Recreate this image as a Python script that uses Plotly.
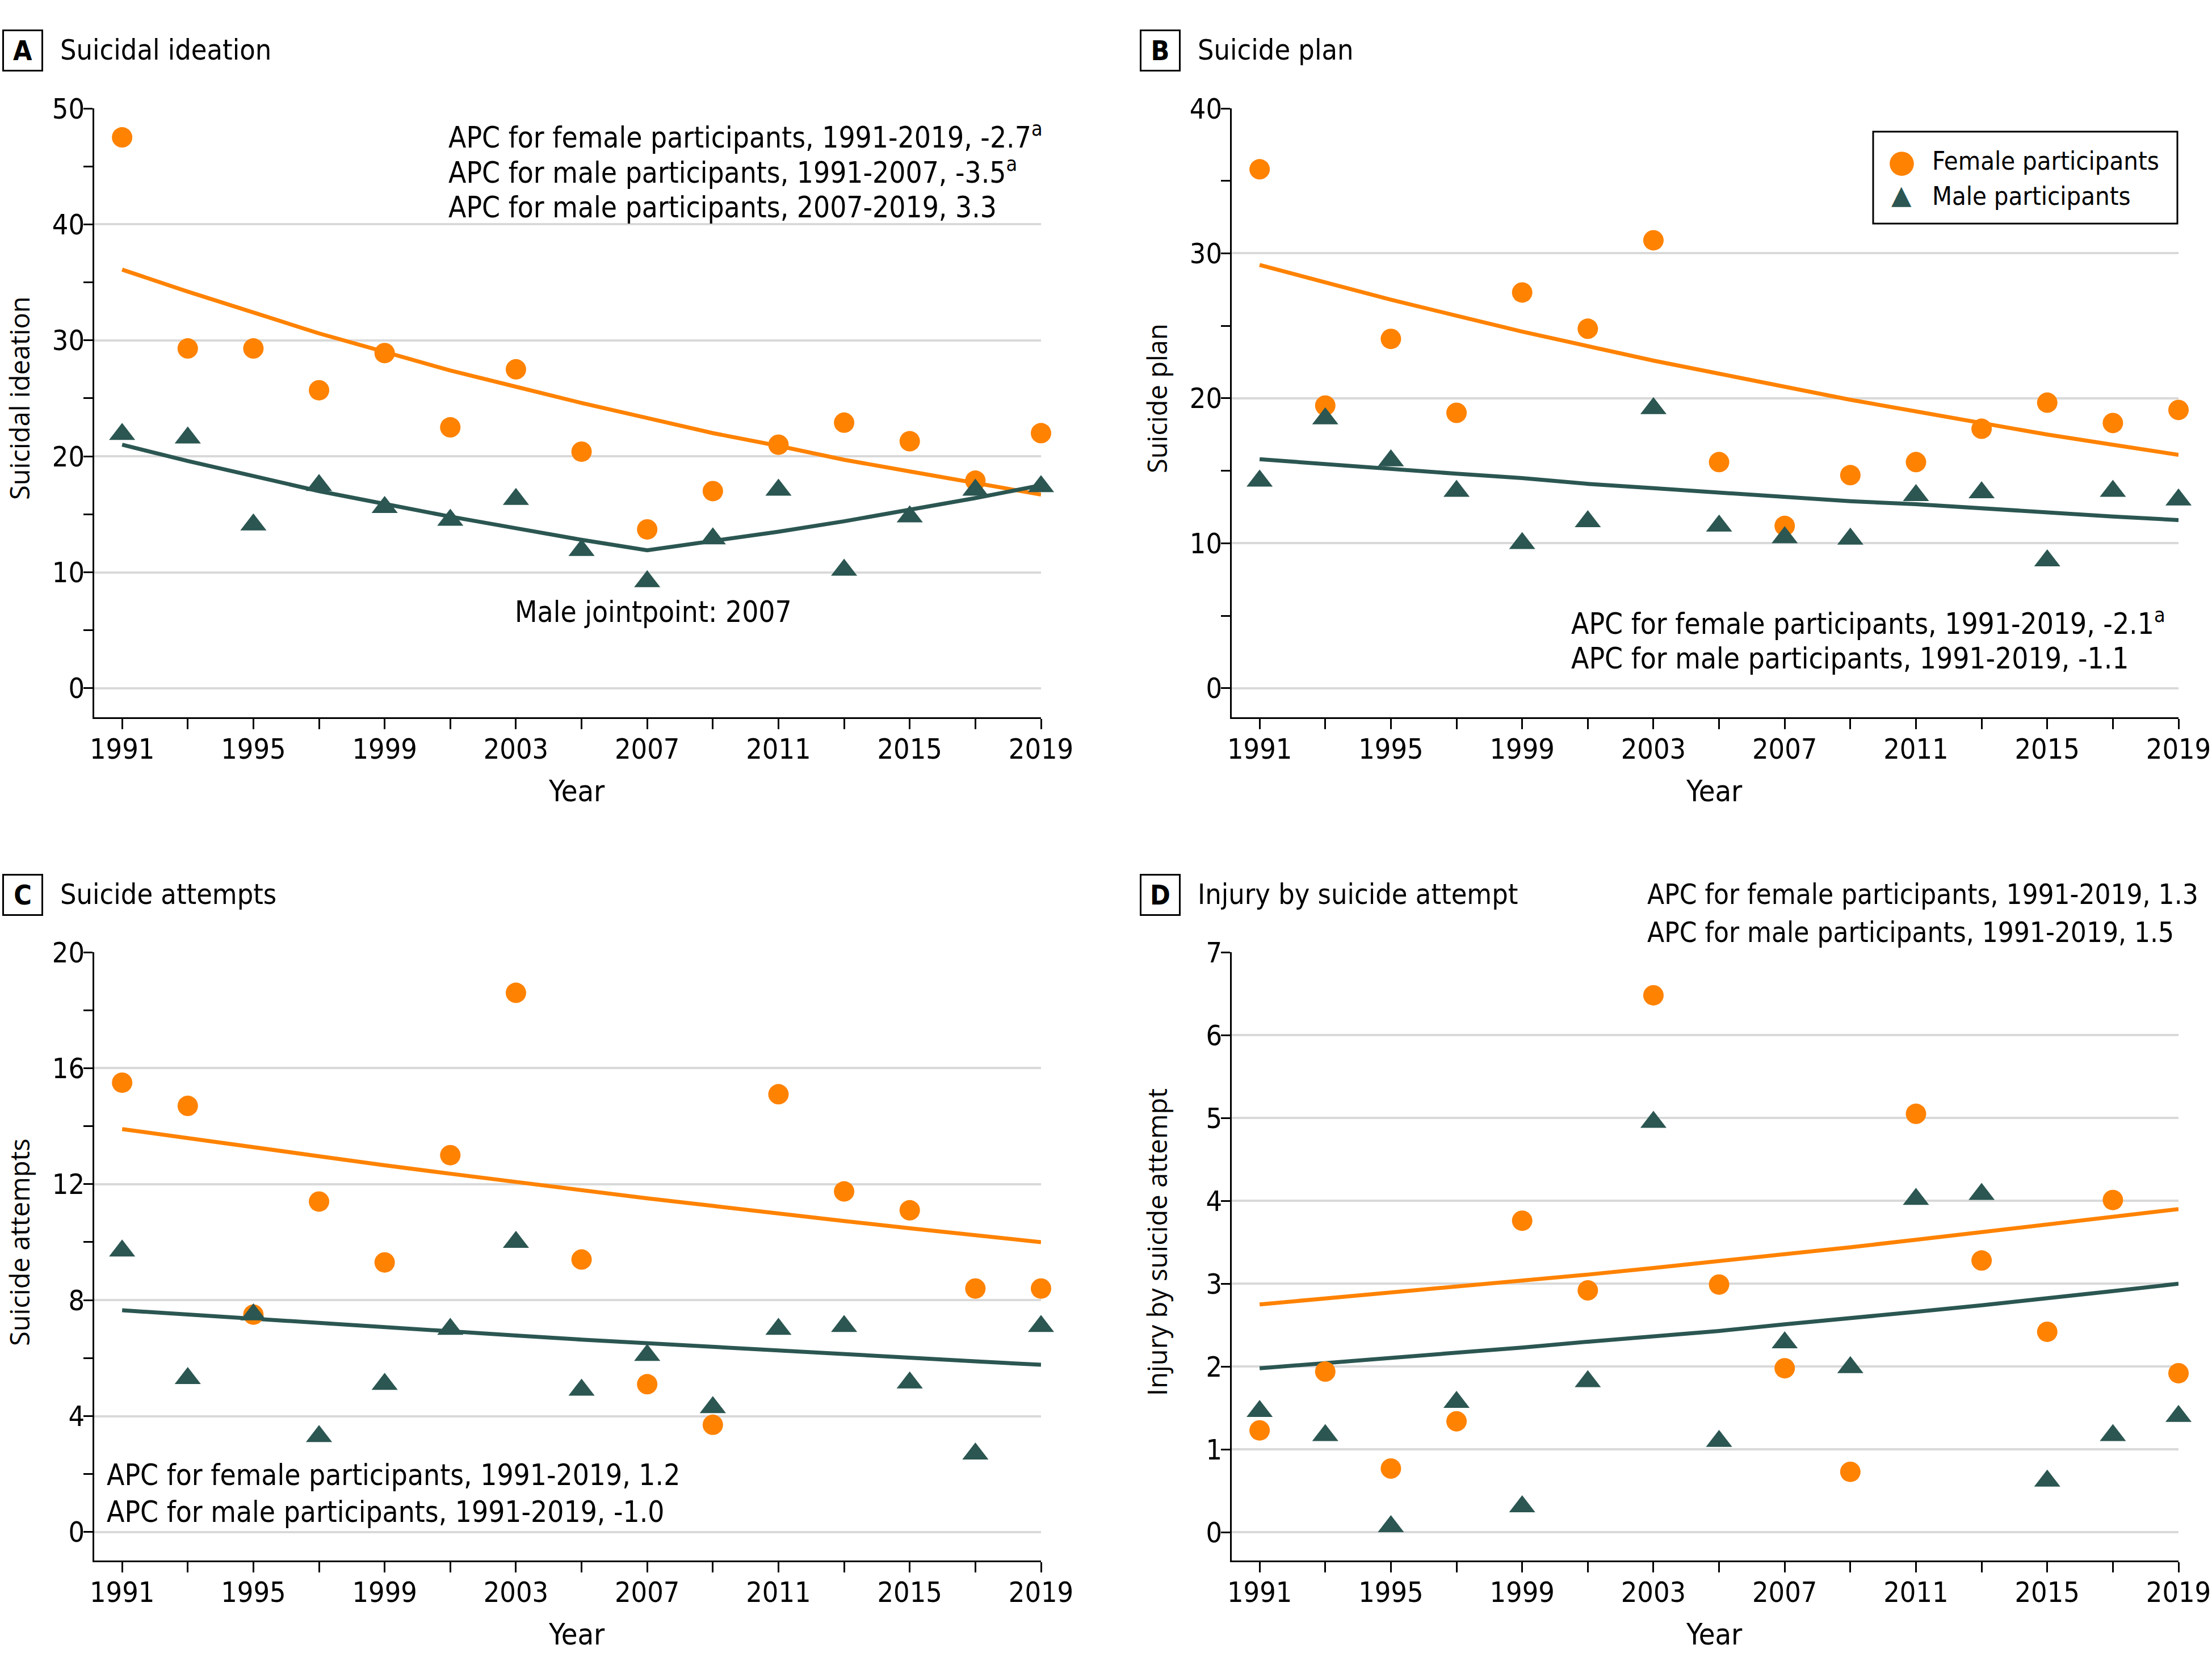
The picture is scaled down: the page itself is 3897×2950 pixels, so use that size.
import plotly.graph_objects as go

W, H = 3897, 2950
ORANGE = "#FF8200"
TEAL = "#2B5651"
FONT = "Liberation Sans Narrow, DejaVu Sans Condensed, Arial Narrow, sans-serif"
YTITLE_FONT = "Open Sans, Noto Sans, DejaVu Sans, sans-serif"

years = [1991, 1993, 1995, 1997, 1999, 2001, 2003, 2005, 2007, 2009, 2011, 2013, 2015, 2017, 2019]

# A - suicidal ideation
ideation_female = [47.5, 29.3, 29.3, 25.7, 28.9, 22.5, 27.5, 20.4, 13.7, 17.0, 21.0, 22.9, 21.3, 17.9, 22.0]
ideation_male = [21.9, 21.6, 14.1, 17.5, 15.6, 14.5, 16.3, 11.9, 9.2, 12.9, 17.1, 10.2, 14.8, 17.1, 17.4]
ideation_female_fit = [36.1, 34.2, 32.4, 30.6, 29.0, 27.4, 26.0, 24.6, 23.3, 22.0, 20.9, 19.7, 18.7, 17.7, 16.7]
ideation_male_fit = [21.0, 19.6, 18.3, 17.0, 15.9, 14.8, 13.8, 12.8, 11.9, 12.7, 13.5, 14.4, 15.4, 16.4, 17.5]

# B - suicide plan
plan_female = [35.8, 19.5, 24.1, 19.0, 27.3, 24.8, 30.9, 15.6, 11.2, 14.7, 15.6, 17.9, 19.7, 18.3, 19.2]
plan_male = [14.3, 18.6, 15.7, 13.6, 10.0, 11.5, 19.3, 11.2, 10.4, 10.3, 13.3, 13.5, 8.8, 13.6, 13.0]
plan_female_fit = [29.2, 28.0, 26.8, 25.7, 24.6, 23.6, 22.6, 21.7, 20.8, 19.9, 19.1, 18.3, 17.5, 16.8, 16.1]
plan_male_fit = [15.8, 15.45, 15.1, 14.8, 14.5, 14.1, 13.8, 13.5, 13.2, 12.9, 12.7, 12.4, 12.1, 11.85, 11.6]

# C - suicide attempts
attempts_female = [15.5, 14.7, 7.5, 11.4, 9.3, 13.0, 18.6, 9.4, 5.1, 3.7, 15.1, 11.75, 11.1, 8.4, 8.4]
attempts_male = [9.7, 5.3, 7.5, 3.3, 5.1, 7.0, 10.0, 4.9, 6.1, 4.3, 7.0, 7.1, 5.15, 2.7, 7.1]
attempts_female_fit = [13.9, 13.58, 13.26, 12.95, 12.65, 12.36, 12.07, 11.79, 11.51, 11.25, 10.98, 10.73, 10.48, 10.23, 10.0]
attempts_male_fit = [7.65, 7.5, 7.35, 7.2, 7.06, 6.92, 6.78, 6.64, 6.51, 6.38, 6.25, 6.13, 6.01, 5.89, 5.77]

# D - injury by suicide attempt
injury_female = [1.23, 1.94, 0.77, 1.34, 3.76, 2.92, 6.48, 2.99, 1.98, 0.73, 5.05, 3.28, 2.42, 4.01, 1.92]
injury_male = [1.46, 1.17, 0.07, 1.57, 0.31, 1.82, 4.95, 1.10, 2.29, 1.99, 4.02, 4.08, 0.62, 1.17, 1.40]
injury_female_fit = [2.75, 2.82, 2.89, 2.96, 3.04, 3.11, 3.19, 3.27, 3.36, 3.44, 3.53, 3.62, 3.71, 3.80, 3.90]
injury_male_fit = [1.98, 2.04, 2.10, 2.16, 2.23, 2.30, 2.36, 2.43, 2.51, 2.58, 2.66, 2.74, 2.82, 2.91, 3.0]


def fx(px):
    return px / W


def fy(py):
    return 1 - py / H


panels = [
    dict(letter="A", title="Suicidal ideation", ytitle="Suicidal ideation",
         female=ideation_female, male=ideation_male,
         ffit=ideation_female_fit, mfit=ideation_male_fit,
         yrange=[-2.5, 50], dtick=10, minor=5,
         left=166, right=1834, top=191, bottom=1264, ytop=191, yzero=1213),
    dict(letter="B", title="Suicide plan", ytitle="Suicide plan",
         female=plan_female, male=plan_male,
         ffit=plan_female_fit, mfit=plan_male_fit,
         yrange=[-2.0, 40], dtick=10, minor=5,
         left=2170, right=3838, top=191, bottom=1264, ytop=191, yzero=1213),
    dict(letter="C", title="Suicide attempts", ytitle="Suicide attempts",
         female=attempts_female, male=attempts_male,
         ffit=attempts_female_fit, mfit=attempts_male_fit,
         yrange=[-0.98, 20], dtick=4, minor=2,
         left=166, right=1834, top=1678, bottom=2750, ytop=1678, yzero=2700),
    dict(letter="D", title="Injury by suicide attempt", ytitle="Injury by suicide attempt",
         female=injury_female, male=injury_male,
         ffit=injury_female_fit, mfit=injury_male_fit,
         yrange=[-0.34, 7], dtick=1, minor=None,
         left=2170, right=3838, top=1678, bottom=2750, ytop=1678, yzero=2700),
]

fig = go.Figure()
annotations = []
shapes = []
layout = {}

for i, p in enumerate(panels):
    n = "" if i == 0 else str(i + 1)
    xa, ya = "x" + n, "y" + n

    fig.add_trace(go.Scatter(x=years, y=p["ffit"], mode="lines", xaxis=xa, yaxis=ya,
                             line=dict(color=ORANGE, width=7), showlegend=False))
    fig.add_trace(go.Scatter(x=years, y=p["mfit"], mode="lines", xaxis=xa, yaxis=ya,
                             line=dict(color=TEAL, width=7), showlegend=False))
    fig.add_trace(go.Scatter(x=years, y=p["female"], mode="markers", xaxis=xa, yaxis=ya,
                             marker=dict(symbol="circle", size=36, color=ORANGE),
                             cliponaxis=False, showlegend=False))
    fig.add_trace(go.Scatter(x=years, y=p["male"], mode="markers", xaxis=xa, yaxis=ya,
                             marker=dict(symbol="triangle-up", size=40, color=TEAL),
                             cliponaxis=False, showlegend=False))

    layout["xaxis" + n] = dict(
        domain=[fx(p["left"]), fx(p["right"])], anchor=ya, range=[1990.15, 2019],
        automargin=False, ticklabelstandoff=-8,
        tick0=1991, dtick=4, ticks="outside", ticklen=18, tickwidth=3, tickcolor="black",
        minor=dict(tick0=1991, dtick=2, ticks="outside", ticklen=18, tickwidth=3, tickcolor="black"),
        showline=True, linecolor="black", linewidth=3, showgrid=False, zeroline=False,
        tickfont=dict(family=FONT, size=50, color="black"),
    )
    yax = dict(
        domain=[fy(p["bottom"]), fy(p["top"])], anchor=xa, range=p["yrange"],
        automargin=False, ticklabelstandoff=-12,
        tick0=0, dtick=p["dtick"], ticks="outside", ticklen=16, tickwidth=3, tickcolor="black",
        showline=True, linecolor="black", linewidth=3,
        showgrid=True, gridcolor="#D9D9D9", gridwidth=4, zeroline=False,
        tickfont=dict(family=FONT, size=50, color="black"),
    )
    if p["minor"]:
        yax["minor"] = dict(tick0=0, dtick=p["minor"], ticks="outside", ticklen=16,
                            tickwidth=3, tickcolor="black", showgrid=False)
    layout["yaxis" + n] = yax

    # panel letter box + title
    box_left = 4 if p["left"] < 1000 else 2008
    box_top = 52 if p["top"] < 1000 else 1540
    annotations.append(dict(
        text="<b>%s</b>" % p["letter"], xref="paper", yref="paper",
        x=fx(box_left), y=fy(box_top), xanchor="left", yanchor="top",
        width=66, height=68, showarrow=False, bordercolor="black", borderwidth=3,
        borderpad=0, font=dict(family=FONT, size=48, color="black")))
    annotations.append(dict(
        text=p["title"], xref="paper", yref="paper",
        x=fx(box_left + 100), y=fy(box_top + 36), xanchor="left", yanchor="middle",
        showarrow=False, font=dict(family=FONT, size=50, color="black")))

    # axis titles
    annotations.append(dict(
        text=p["ytitle"], xref="paper", yref="paper", textangle=-90,
        x=fx(p["left"] - 132), y=fy((p["ytop"] + p["yzero"]) / 2),
        xanchor="center", yanchor="middle", showarrow=False,
        font=dict(family=YTITLE_FONT, size=47, color="black")))
    annotations.append(dict(
        text="Year", xref="paper", yref="paper",
        x=fx((p["left"] + p["right"]) / 2 + 16), y=fy(p["bottom"] + 130),
        xanchor="center", yanchor="middle", showarrow=False,
        font=dict(family=FONT, size=52, color="black")))

apc_texts = [
    (788, 239, 51, "APC for female participants, 1991-2019, -2.7<sup>a</sup>"),
    (788, 301, 51, "APC for male participants, 1991-2007, -3.5<sup>a</sup>"),
    (788, 365, 51, "APC for male participants, 2007-2019, 3.3"),
    (905, 1078, 51, "Male jointpoint: 2007"),
    (2766, 1096, 51, "APC for female participants, 1991-2019, -2.1<sup>a</sup>"),
    (2766, 1160, 51, "APC for male participants, 1991-2019, -1.1"),
    (186, 2599, 51, "APC for female participants, 1991-2019, 1.2"),
    (186, 2664, 51, "APC for male participants, 1991-2019, -1.0"),
    (2900, 1576, 49, "APC for female participants, 1991-2019, 1.3"),
    (2900, 1643, 49, "APC for male participants, 1991-2019, 1.5"),
]
for x, y, size, t in apc_texts:
    annotations.append(dict(text=t, xref="paper", yref="paper", x=fx(x), y=fy(y),
                            xanchor="left", yanchor="middle", showarrow=False,
                            font=dict(family=FONT, size=size, color="black")))

# legend (panel B)
shapes.append(dict(type="rect", xref="paper", yref="paper",
                   x0=fx(3300), x1=fx(3836), y0=fy(394), y1=fy(232),
                   line=dict(color="black", width=3), fillcolor="white", layer="above"))
annotations.append(dict(text="\u25CF", xref="paper", yref="paper", x=fx(3350), y=fy(283),
                        xanchor="center", yanchor="middle", showarrow=False,
                        font=dict(family="DejaVu Sans", size=56, color=ORANGE)))
annotations.append(dict(text="\u25B2", xref="paper", yref="paper", x=fx(3350), y=fy(343),
                        xanchor="center", yanchor="middle", showarrow=False,
                        font=dict(family="DejaVu Sans", size=46, color=TEAL)))
annotations.append(dict(text="Female participants", xref="paper", yref="paper", x=fx(3402), y=fy(283),
                        xanchor="left", yanchor="middle", showarrow=False,
                        font=dict(family=FONT, size=45, color="black")))
annotations.append(dict(text="Male participants", xref="paper", yref="paper", x=fx(3402), y=fy(345),
                        xanchor="left", yanchor="middle", showarrow=False,
                        font=dict(family=FONT, size=45, color="black")))

fig.update_layout(
    width=W, height=H, margin=dict(l=0, r=0, t=0, b=0, pad=0, autoexpand=False),
    paper_bgcolor="white", plot_bgcolor="white", showlegend=False,
    font=dict(family=FONT, size=48, color="black"),
    annotations=annotations, shapes=shapes, **layout,
)

fig.write_html("out.html", config={"displayModeBar": False},
               post_script="document.body.style.margin='0';document.body.style.overflow='hidden';")
